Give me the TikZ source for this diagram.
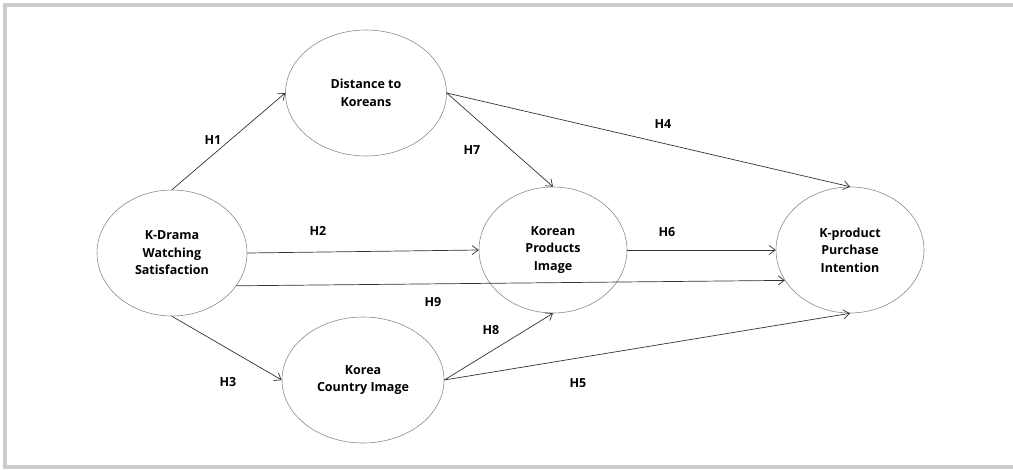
\documentclass[tikz,border=0pt]{standalone}
\usepackage{fontspec}
\setmainfont{Open Sans}
\usetikzlibrary{positioning,arrows.meta,shapes.geometric}

\begin{document}
\begin{tikzpicture}[
  x=1pt, y=-1pt,
  font=\fontsize{12.5}{17.5}\selectfont\bfseries,
  construct/.style={ellipse, draw=black!45, line width=0.6pt, minimum width=150pt, minimum height=126pt, inner sep=0pt, align=center},
  path/.style={draw=black!80, line width=0.7pt, -{Straight Barb[length=6pt,width=9pt,line width=0.7pt]}},
  hyp/.style={inner sep=0pt}
]
\useasboundingbox (0,0) rectangle (1013,469);
% frame
\draw[black!20, line width=4pt] (1020,5) -- (5,5) -- (5,467) -- (1020,467);

% constructs
\node[construct] (drama) at (172,253) {K-Drama\\Watching\\Satisfaction};
\node[construct, minimum width=161pt] (dist) at (366,93) {Distance to\\Koreans};
\node[construct, minimum width=148pt] (prod) at (553,250) {Korean\\Products\\Image};
\node[construct, minimum width=148pt] (kprod) at (850,250) {K-product\\Purchase\\Intention};
\node[construct, minimum width=162pt] (country) at (363,380) {Korea\\Country Image};

% paths
\draw[path] (drama.north) -- (dist.west);
\draw[path] (drama.east) -- (prod.west);
\draw[path] (drama.-27) -- (kprod.205);
\draw[path] (drama.south) -- (country.west);
\draw[path] (dist.east) -- (kprod.north);
\draw[path] (dist.east) -- (prod.north);
\draw[path] (prod.east) -- (kprod.west);
\draw[path] (country.east) -- (prod.south);
\draw[path] (country.east) -- (kprod.south);

% hypotheses
\node[hyp] (h1) at (213,140) {H1};
\node[hyp] (h2) at (318,231) {H2};
\node[hyp] (h3) at (228,382) {H3};
\node[hyp] (h4) at (663,124) {H4};
\node[hyp] (h5) at (578,383) {H5};
\node[hyp] (h6) at (667,232) {H6};
\node[hyp] (h7) at (472,150) {H7};
\node[hyp] (h8) at (491,330) {H8};
\node[hyp] (h9) at (433,302) {H9};
\end{tikzpicture}
\end{document}
